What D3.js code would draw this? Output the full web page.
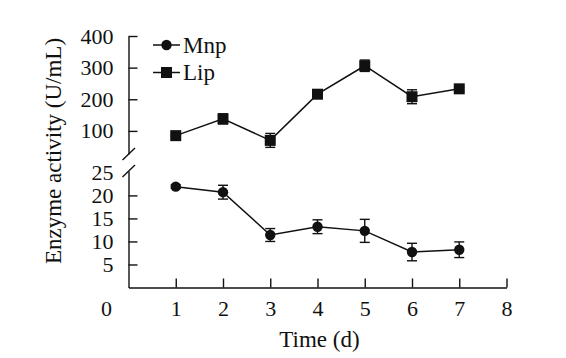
<!DOCTYPE html>
<html>
<head>
<meta charset="utf-8">
<script src="https://cdn.jsdelivr.net/npm/d3@7"></script>
<style>
  html, body { margin: 0; padding: 0; background: #fff; }
  svg text { font-family: "Liberation Serif", "Times New Roman", serif !important; fill: #111; }
</style>
</head>
<body>
<svg id="chart" width="566" height="358"></svg>
<script>
// ---- data ----
const days = [1, 2, 3, 4, 5, 6, 7];
const mnp = [21.9, 20.7, 11.4, 13.2, 12.3, 7.7, 8.2];
const mnpErr = [0.4, 1.5, 1.4, 1.5, 2.5, 1.9, 1.7];
const lip = [85, 138, 70, 216, 306, 208, 233];
const lipErr = [4, 16, 22, 6, 18, 22, 5];
const xTicks = [1, 2, 3, 4, 5, 6, 7, 8];
const upperTicks = [100, 200, 300, 400];
const lowerTicks = [5, 10, 15, 20, 25];
const seriesNames = ["Mnp", "Lip"];

// ---- layout ----
const FONT = '"Liberation Serif", "Times New Roman", serif';
const svg = d3.select("#chart");
const stroke = "#111";
const x = d3.scaleLinear().domain([0, 8]).range([128.5, 506.5]);
const yU = d3.scaleLinear().domain([27, 400]).range([154, 36]);
const yL = d3.scaleLinear().domain([0, 25.3]).range([287.5, 171]);
const axisX = x(0);

function styleAxis(g) {
  g.attr("font-family", FONT);
  g.select(".domain").attr("stroke", stroke).attr("stroke-width", 1.4);
  g.selectAll(".tick line").attr("stroke", stroke).attr("stroke-width", 1.4);
  g.selectAll("text").attr("font-size", 22).style("font-family", FONT).attr("fill", stroke);
}

// x axis
const gx = svg.append("g").attr("transform", `translate(0,${yL(0)})`)
  .call(d3.axisBottom(x).tickValues(xTicks).tickFormat(d3.format("d"))
    .tickSizeInner(-9).tickSizeOuter(0).tickPadding(13));
styleAxis(gx);
// origin label
svg.append("text").attr("x", axisX - 22).attr("y", yL(0) + 13).attr("dy", "0.71em")
  .attr("text-anchor", "middle").attr("font-size", 22).style("font-family", FONT).text("0");

// upper y axis
const gyU = svg.append("g").attr("transform", `translate(${axisX},0)`)
  .call(d3.axisLeft(yU).tickValues(upperTicks).tickFormat(d3.format("d"))
    .tickSizeInner(-9).tickSizeOuter(0).tickPadding(15));
styleAxis(gyU);

// lower y axis
const gyL = svg.append("g").attr("transform", `translate(${axisX},0)`)
  .call(d3.axisLeft(yL).tickValues(lowerTicks).tickFormat(d3.format("d"))
    .tickSizeInner(-9).tickSizeOuter(0).tickPadding(15));
styleAxis(gyL);
gyL.selectAll(".tick line").filter(d => d === 25).remove();

// break marks
[yU(27), yL(25.3)].forEach(cy => {
  svg.append("line").attr("x1", axisX - 6).attr("y1", cy + 6)
    .attr("x2", axisX + 6.5).attr("y2", cy - 6)
    .attr("stroke", stroke).attr("stroke-width", 1.4);
});

// axis titles
svg.append("text").attr("x", x(4) + 2).attr("y", 347).attr("text-anchor", "middle")
  .attr("font-size", 23).style("font-family", FONT).text("Time (d)");
svg.append("text").attr("transform", `translate(61,151) rotate(-90)`)
  .attr("text-anchor", "middle").attr("font-size", 23).style("font-family", FONT)
  .text("Enzyme activity (U/mL)");

// series
function drawSeries(vals, errs, y, shape) {
  const pts = days.map((d, i) => ({ d, v: vals[i], e: errs[i] }));
  const g = svg.append("g");
  g.append("path").datum(pts)
    .attr("d", d3.line().x(p => x(p.d)).y(p => y(p.v)))
    .attr("fill", "none").attr("stroke", stroke).attr("stroke-width", 1.5);
  const eb = g.selectAll("g.eb").data(pts).enter().append("g");
  eb.append("line").attr("x1", p => x(p.d)).attr("x2", p => x(p.d))
    .attr("y1", p => y(p.v - p.e)).attr("y2", p => y(p.v + p.e))
    .attr("stroke", stroke).attr("stroke-width", 1.4);
  [-1, 1].forEach(s => {
    eb.append("line").attr("x1", p => x(p.d) - 5).attr("x2", p => x(p.d) + 5)
      .attr("y1", p => y(p.v + s * p.e)).attr("y2", p => y(p.v + s * p.e))
      .attr("stroke", stroke).attr("stroke-width", 1.4);
  });
  if (shape === "circle") {
    g.selectAll("circle").data(pts).enter().append("circle")
      .attr("cx", p => x(p.d)).attr("cy", p => y(p.v)).attr("r", 5.2).attr("fill", stroke);
  } else {
    g.selectAll("rect.m").data(pts).enter().append("rect")
      .attr("x", p => x(p.d) - 5.5).attr("y", p => y(p.v) - 5.5)
      .attr("width", 11).attr("height", 11).attr("fill", stroke);
  }
}
drawSeries(mnp, mnpErr, yL, "circle");
drawSeries(lip, lipErr, yU, "square");

// legend
const legendRows = [45, 72.5];
seriesNames.forEach((name, i) => {
  const ly = legendRows[i];
  svg.append("line").attr("x1", 153).attr("x2", 180).attr("y1", ly).attr("y2", ly)
    .attr("stroke", stroke).attr("stroke-width", 1.5);
  if (i === 0) {
    svg.append("circle").attr("cx", 166.5).attr("cy", ly).attr("r", 5.2).attr("fill", stroke);
  } else {
    svg.append("rect").attr("x", 161).attr("y", ly - 5.5).attr("width", 11).attr("height", 11).attr("fill", stroke);
  }
  svg.append("text").attr("x", 183).attr("y", ly + 7.5).attr("font-size", 23)
    .style("font-family", FONT).text(name);
});
</script>
</body>
</html>
